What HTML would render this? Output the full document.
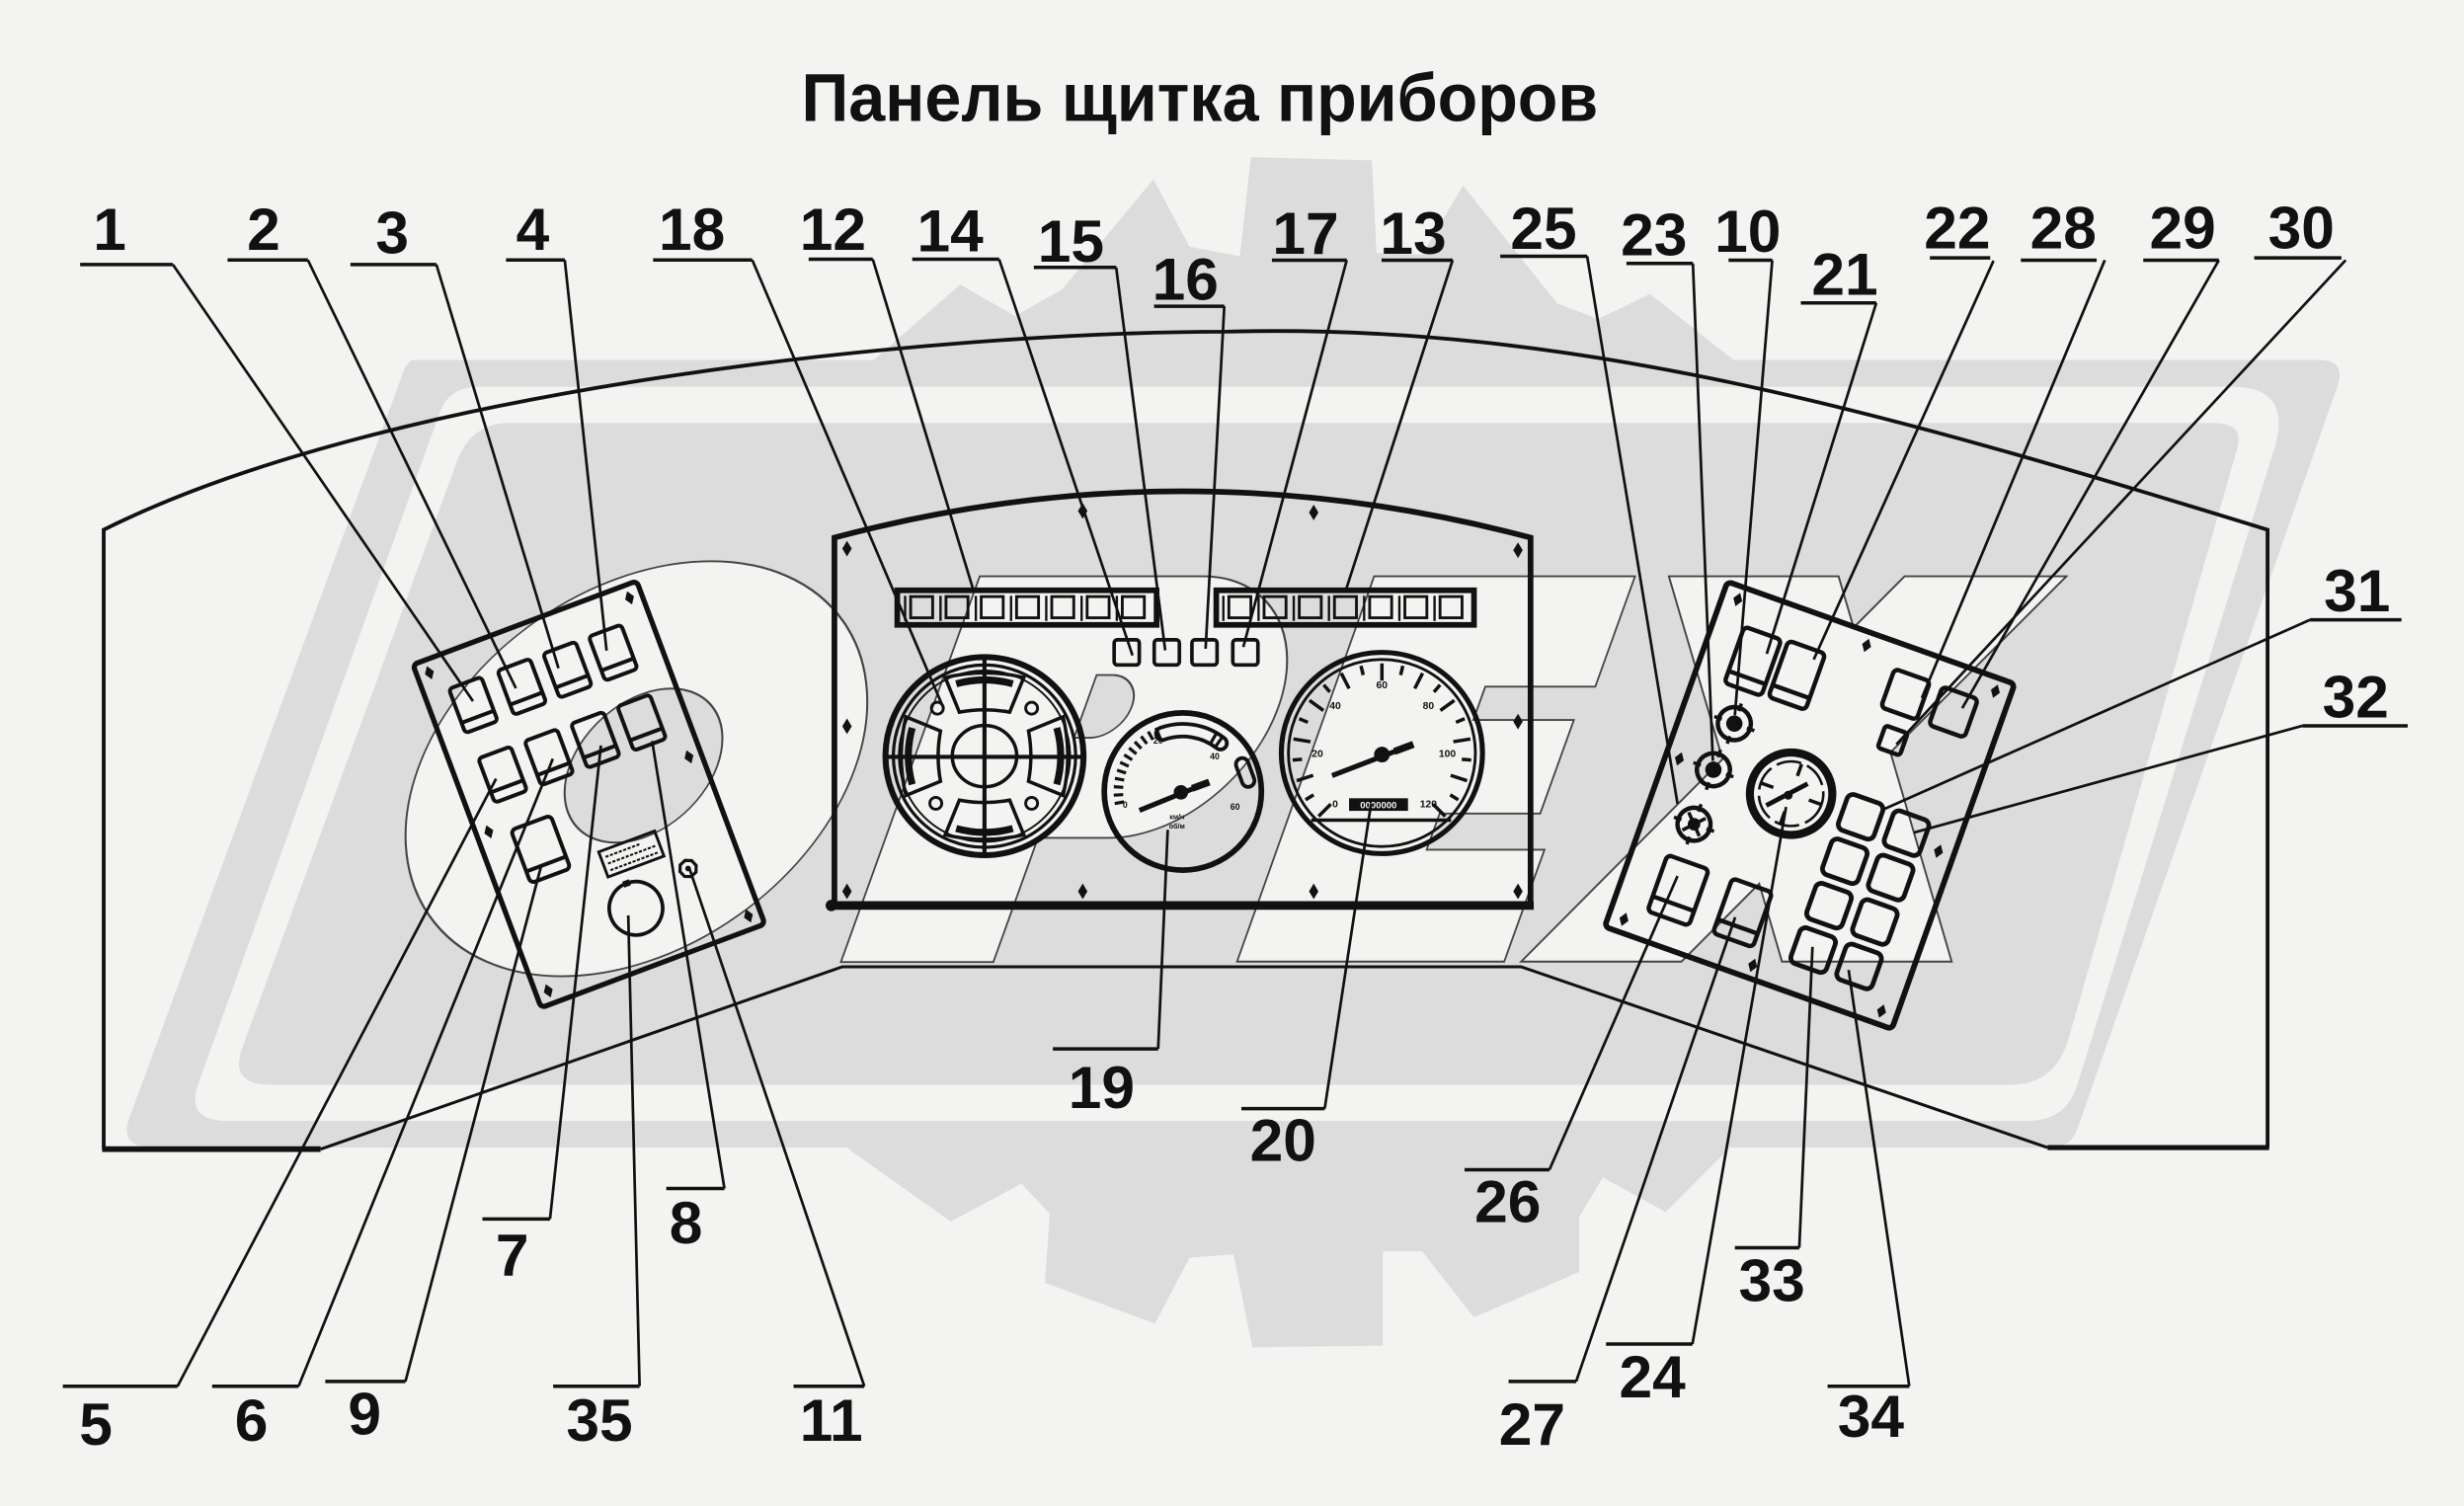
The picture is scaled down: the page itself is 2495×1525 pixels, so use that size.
<!DOCTYPE html>
<html>
<head>
<meta charset="utf-8">
<style>
html,body{margin:0;padding:0;background:#f3f3f1;}
svg{display:block;}
text{font-family:"Liberation Sans", Arial, sans-serif;font-weight:bold;fill:#111;}
</style>
</head>
<body>
<svg xmlns="http://www.w3.org/2000/svg" width="2495" height="1525" viewBox="0 0 1568 958" preserveAspectRatio="none">
<rect x="0" y="0" width="1568" height="958" fill="#f3f3f1"/>

<!-- ===== WATERMARK ===== -->
<g fill="#dcdcdc" stroke="none">
  <polygon points="548,236 611,181 646,201 676,184 734,114 757,157 789,163 796,100 873,102 876,161 905,162 931,118 991,193 1017,203 1050,187 1112,236"/>
  <polygon points="540,724 540,731 605,777 650,753 668,772 665,816 735,842 757,800 785,798 797,857 880,856 880,796 905,796 938,838 1005,809 1005,774 1020,749 1060,771 1100,731 1100,724"/>
  <!-- frame outer -->
  <path d="M262,229 L1476,229 Q1492,229 1488,244 L1322,718 Q1318,730 1305,730 L98,730 Q76,730 82,712 L258,233 Z"/>
</g>
<!-- frame light band -->
<path d="M305,246 L1420,246 Q1458,246 1448,283 L1322,690 Q1315,713 1290,713 L145,713 Q118,713 126,690 L280,262 Q286,246 305,246 Z" fill="#f3f3f1"/>
<!-- frame inner -->
<path d="M325,269 L1408,269 Q1428,269 1424,284 L1316,662 Q1307,690 1280,690 L172,690 Q146,690 154,667 L291,293 Q300,269 325,269 Z" fill="#dcdcdc"/>

<g transform="translate(0,229) skewX(-19.8)">
  <!-- O -->
  <ellipse cx="498.6" cy="260" rx="139" ry="132" fill="#f3f3f1" stroke="#444" stroke-width="1.2"/>
  <ellipse cx="502.4" cy="258" rx="47" ry="49" fill="#dcdcdc" stroke="#444" stroke-width="1.2"/>
  <!-- P -->
  <path d="M673,137.6 L815,137.6 A78,83.2 0 0 1 815,304 L770,304 L770,383 L673,383 Z" fill="#f3f3f1" stroke="#444" stroke-width="1.2"/>
  <path d="M770,200.4 L781,200.4 A20,20 0 0 1 781,240.3 L770,240.3 Z" fill="#dcdcdc" stroke="#444" stroke-width="1.2"/>
  <!-- E -->
  <polygon points="924,137.6 1090,137.6 1090,207.8 1020,207.8 1020,229 1084,229 1084,288.5 1020,288.5 1020,311.5 1095,311.5 1095,382.7 925,382.7" fill="#f3f3f1" stroke="#444" stroke-width="1.2"/>
</g>
<!-- X -->
<polygon points="1062,366.6 1170,366.6 1179.6,399.2 1212,366.6 1315,366.6 1203,478.6 1242,611.7 1134,611.7 1119.5,562.1 1070,611.7 968,611.7 1096.2,482.9" fill="#f3f3f1" stroke="#444" stroke-width="1.2"/>

<!-- ===== TITLE ===== -->
<text x="763.5" y="77" font-size="43" text-anchor="middle" textLength="507" lengthAdjust="spacingAndGlyphs">Панель щитка приборов</text>

<!-- ===== DASHBOARD OUTLINE ===== -->
<g fill="none" stroke="#111" stroke-linejoin="miter">
  <path d="M66,731 L66,337 C250,245 600,211 780,211 C1000,205 1200,262 1443,337 L1443,730" stroke-width="2.4"/>
  <line x1="65" y1="731" x2="204" y2="731" stroke-width="3.6"/>
  <path d="M204,731 L536,615 L968,615 L1303,730" stroke-width="1.9"/>
  <line x1="1303" y1="730" x2="1444" y2="730" stroke-width="3.2"/>
</g>

<!-- ===== CENTRAL PANEL ===== -->
<g fill="none" stroke="#111">
  <path d="M531,576 L531,342 Q752,283 974,342 L974,576" stroke-width="3.6"/>
  <line x1="529" y1="576" x2="976" y2="576" stroke-width="5.5"/>
</g>
<circle cx="529" cy="576" r="3.6" fill="#111"/>
<g fill="#111">
  <path d="M539,344 l3,5 l-3,5 l-3,-5z"/>
  <path d="M966,345 l3,5 l-3,5 l-3,-5z"/>
  <path d="M539,457 l3,5 l-3,5 l-3,-5z"/>
  <path d="M966,454 l3,5 l-3,5 l-3,-5z"/>
  <path d="M539,562 l3,5 l-3,5 l-3,-5z"/>
  <path d="M689,562 l3,5 l-3,5 l-3,-5z"/>
  <path d="M836,562 l3,5 l-3,5 l-3,-5z"/>
  <path d="M966,562 l3,5 l-3,5 l-3,-5z"/>
  <path d="M689,320 l3,5 l-3,5 l-3,-5z"/>
  <path d="M836,321 l3,5 l-3,5 l-3,-5z"/>
</g>

<!-- indicator strips -->
<g fill="none" stroke="#111">
  <rect x="571" y="375.5" width="165" height="22" stroke-width="3.6"/>
  <rect x="774" y="375.5" width="164" height="22" stroke-width="3.6"/>
  <g stroke-width="1.8">
    <rect x="579.5" y="379.5" width="14" height="13.5"/>
    <rect x="602" y="379.5" width="14" height="13.5"/>
    <rect x="624.4" y="379.5" width="14" height="13.5"/>
    <rect x="646.9" y="379.5" width="14" height="13.5"/>
    <rect x="669.3" y="379.5" width="14" height="13.5"/>
    <rect x="691.8" y="379.5" width="14" height="13.5"/>
    <rect x="714.2" y="379.5" width="14" height="13.5"/>
    <rect x="782" y="379.5" width="14" height="13.5"/>
    <rect x="804.4" y="379.5" width="14" height="13.5"/>
    <rect x="826.8" y="379.5" width="14" height="13.5"/>
    <rect x="849.2" y="379.5" width="14" height="13.5"/>
    <rect x="871.6" y="379.5" width="14" height="13.5"/>
    <rect x="894" y="379.5" width="14" height="13.5"/>
    <rect x="916.4" y="379.5" width="14" height="13.5"/>
  </g>
  <g stroke-width="1.5">
    <line x1="576" y1="379" x2="576" y2="395"/><line x1="598.5" y1="379" x2="598.5" y2="395"/>
    <line x1="621" y1="379" x2="621" y2="395"/><line x1="643.4" y1="379" x2="643.4" y2="395"/>
    <line x1="665.8" y1="379" x2="665.8" y2="395"/><line x1="688.3" y1="379" x2="688.3" y2="395"/>
    <line x1="710.7" y1="379" x2="710.7" y2="395"/>
    <line x1="778.5" y1="379" x2="778.5" y2="395"/><line x1="800.9" y1="379" x2="800.9" y2="395"/>
    <line x1="823.3" y1="379" x2="823.3" y2="395"/><line x1="845.7" y1="379" x2="845.7" y2="395"/>
    <line x1="868.1" y1="379" x2="868.1" y2="395"/><line x1="890.5" y1="379" x2="890.5" y2="395"/>
    <line x1="912.9" y1="379" x2="912.9" y2="395"/>
  </g>
  <g stroke-width="2.3">
    <rect x="709" y="407" width="16" height="16" rx="2"/>
    <rect x="734.5" y="407" width="16" height="16" rx="2"/>
    <rect x="758.5" y="407" width="16" height="16" rx="2"/>
    <rect x="784.5" y="407" width="16" height="16" rx="2"/>
  </g>
</g>

<!-- ===== GAUGE 18 (left) ===== -->
<g transform="translate(626.5,481)" fill="none" stroke="#111">
  <circle r="63" stroke-width="3.8"/>
  <circle r="58" stroke-width="2"/>
  <circle r="54.5" stroke-width="1.2"/>
  <g stroke-width="2.2">
    <path d="M-25,-50 Q0,-56 25,-50 L16,-28 Q0,-31 -16,-28 Z"/>
    <path d="M-25,-50 Q0,-56 25,-50 L16,-28 Q0,-31 -16,-28 Z" transform="rotate(90)"/>
    <path d="M-25,-50 Q0,-56 25,-50 L16,-28 Q0,-31 -16,-28 Z" transform="rotate(180)"/>
    <path d="M-25,-50 Q0,-56 25,-50 L16,-28 Q0,-31 -16,-28 Z" transform="rotate(270)"/>
  </g>
  <g stroke-width="4.5">
    <path d="M-18,-46 Q0,-51 18,-46"/>
    <path d="M-18,-46 Q0,-51 18,-46" transform="rotate(90)"/>
    <path d="M-18,-46 Q0,-51 18,-46" transform="rotate(180)"/>
    <path d="M-18,-46 Q0,-51 18,-46" transform="rotate(270)"/>
  </g>
  <g stroke-width="1.8">
    <circle cx="-30" cy="-30.5" r="3.8"/><circle cx="30" cy="-30.5" r="3.8"/>
    <circle cx="-31" cy="30" r="3.8"/><circle cx="30" cy="30" r="3.8"/>
  </g>
  <ellipse rx="20.5" ry="19.5" stroke-width="2.2"/>
  <line x1="-62" y1="0.5" x2="62" y2="0.5" stroke-width="2.6"/>
  <line x1="0" y1="-63" x2="0" y2="63" stroke-width="2.6"/>
</g>

<!-- ===== GAUGE 19 (middle) ===== -->
<g transform="translate(752.7,503.5)" fill="none" stroke="#111">
  <circle r="50" stroke-width="3.6"/>
  <path d="M-14.7,-40.4 A43,43 0 0 1 26.5,-33.9 A4,4 0 0 1 21.5,-27.6 A35,35 0 0 0 -12,-32.9 A4,4 0 0 1 -14.7,-40.4 Z" stroke-width="2.4"/>
  <rect x="35.7" y="-21.6" width="8" height="19" rx="4" transform="rotate(-20 39.7 -12.1)" stroke-width="2.4"/>
  <g stroke-width="2">
    <line x1="38" y1="0" x2="44" y2="0" transform="rotate(170)"/>
    <line x1="38" y1="0" x2="44" y2="0" transform="rotate(177)"/>
    <line x1="38" y1="0" x2="44" y2="0" transform="rotate(184)"/>
    <line x1="38" y1="0" x2="44" y2="0" transform="rotate(191)"/>
    <line x1="38" y1="0" x2="44" y2="0" transform="rotate(198)"/>
    <line x1="38" y1="0" x2="44" y2="0" transform="rotate(205)"/>
    <line x1="38" y1="0" x2="44" y2="0" transform="rotate(212)"/>
    <line x1="38" y1="0" x2="44" y2="0" transform="rotate(219)"/>
    <line x1="38" y1="0" x2="44" y2="0" transform="rotate(226)"/>
    <line x1="38" y1="0" x2="44" y2="0" transform="rotate(233)"/>
    <line x1="38" y1="0" x2="44" y2="0" transform="rotate(240)"/>
    <line x1="36" y1="0" x2="44" y2="0" transform="rotate(247)"/>
    <line x1="36" y1="0" x2="43" y2="0" transform="rotate(300)"/>
    <line x1="36" y1="0" x2="43" y2="0" transform="rotate(306)"/>
  </g>
  <line x1="-27.6" y1="12" x2="16.8" y2="-6" stroke-width="3.2"/>
  <line x1="6" y1="-2" x2="16.8" y2="-6" stroke-width="4.5"/>
</g>
<circle cx="751.5" cy="504" r="4.6" fill="#111"/>
<g font-size="5.5">
  <text x="716" y="514" text-anchor="middle">0</text>
  <text x="737" y="473" text-anchor="middle">20</text>
  <text x="773" y="483" text-anchor="middle">40</text>
  <text x="786" y="515" text-anchor="middle">60</text>
  <text x="749" y="521" text-anchor="middle" font-size="4.5">км/ч</text>
  <text x="749" y="527" text-anchor="middle" font-size="4.5">об/м</text>
</g>

<!-- ===== GAUGE 20 (right, speedometer) ===== -->
<g transform="translate(879.4,479)" fill="none" stroke="#111">
  <circle r="64" stroke-width="3.2"/>
  <circle r="59.5" stroke-width="1.8"/>
  <g stroke-width="2.2">
    <line x1="46" y1="0" x2="57" y2="0" transform="rotate(135)"/>
    <line x1="51" y1="0" x2="57" y2="0" transform="rotate(148.5)"/>
    <line x1="46" y1="0" x2="57" y2="0" transform="rotate(162)"/>
    <line x1="51" y1="0" x2="57" y2="0" transform="rotate(175.5)"/>
    <line x1="46" y1="0" x2="57" y2="0" transform="rotate(189)"/>
    <line x1="51" y1="0" x2="57" y2="0" transform="rotate(202.5)"/>
    <line x1="46" y1="0" x2="57" y2="0" transform="rotate(216)"/>
    <line x1="51" y1="0" x2="57" y2="0" transform="rotate(229.5)"/>
    <line x1="46" y1="0" x2="57" y2="0" transform="rotate(243)"/>
    <line x1="51" y1="0" x2="57" y2="0" transform="rotate(256.5)"/>
    <line x1="46" y1="0" x2="57" y2="0" transform="rotate(270)"/>
    <line x1="51" y1="0" x2="57" y2="0" transform="rotate(283.5)"/>
    <line x1="46" y1="0" x2="57" y2="0" transform="rotate(297)"/>
    <line x1="51" y1="0" x2="57" y2="0" transform="rotate(310.5)"/>
    <line x1="46" y1="0" x2="57" y2="0" transform="rotate(324)"/>
    <line x1="51" y1="0" x2="57" y2="0" transform="rotate(337.5)"/>
    <line x1="46" y1="0" x2="57" y2="0" transform="rotate(351)"/>
    <line x1="51" y1="0" x2="57" y2="0" transform="rotate(364.5)"/>
    <line x1="46" y1="0" x2="57" y2="0" transform="rotate(378)"/>
    <line x1="51" y1="0" x2="57" y2="0" transform="rotate(391.5)"/>
    <line x1="46" y1="0" x2="57" y2="0" transform="rotate(405)"/>
  </g>
  <line x1="-45" y1="42.7" x2="44" y2="42.7" stroke-width="2.2"/>
  <line x1="-31.7" y1="14.4" x2="20" y2="-5.5" stroke-width="3.2"/>
  <line x1="8" y1="-1" x2="20" y2="-5.5" stroke-width="4.5"/>
</g>
<circle cx="879.4" cy="480" r="5" fill="#111"/>
<rect x="858.5" y="507.8" width="37.5" height="8" fill="#111"/>
<text x="877.2" y="514.3" font-size="6" text-anchor="middle" style="fill:#f3f3f1">0000000</text>
<g font-size="6.5" text-anchor="middle">
  <text x="849.7" y="513.5">0</text>
  <text x="838.4" y="481.5">20</text>
  <text x="849.7" y="451">40</text>
  <text x="879.4" y="438">60</text>
  <text x="909" y="451">80</text>
  <text x="921" y="481.5">100</text>
  <text x="909" y="513.5">120</text>
</g>

<!-- ===== LEFT SWITCH PANEL ===== -->
<g transform="translate(374.75,505.3) rotate(-20.5)" fill="none" stroke="#111">
  <rect x="-76" y="-116.5" width="152" height="233" rx="3" stroke-width="3.3"/>
  <g stroke-width="2.5">
    <rect x="-60" y="-94" width="22" height="30" rx="2.5"/><line x1="-60" y1="-71" x2="-38" y2="-71"/>
    <rect x="-27" y="-94" width="22" height="30" rx="2.5"/><line x1="-27" y1="-71" x2="-5" y2="-71"/>
    <rect x="4" y="-94" width="22" height="30" rx="2.5"/><line x1="4" y1="-71" x2="26" y2="-71"/>
    <rect x="35" y="-94" width="22" height="30" rx="2.5"/><line x1="35" y1="-71" x2="57" y2="-71"/>
    <rect x="-58" y="-46" width="22" height="30" rx="2.5"/><line x1="-58" y1="-23" x2="-36" y2="-23"/>
    <rect x="-26.5" y="-46" width="22" height="30" rx="2.5"/><line x1="-26.5" y1="-23" x2="-4.5" y2="-23"/>
    <rect x="5" y="-46" width="22" height="30" rx="2.5"/><line x1="5" y1="-23" x2="27" y2="-23"/>
    <rect x="36.5" y="-46" width="22" height="30" rx="2.5"/><line x1="36.5" y1="-23" x2="58.5" y2="-23"/>
    <rect x="-54.5" y="4" width="27" height="36" rx="3"/><line x1="-54.5" y1="32" x2="-27.5" y2="32"/>
  </g>
  <rect x="-7" y="36.5" width="38" height="17" stroke-width="1.8"/>
  <g stroke-width="1.3" stroke-dasharray="2 1">
    <line x1="-4" y1="41" x2="20" y2="41"/>
    <line x1="-4" y1="45.5" x2="28" y2="45.5"/>
    <line x1="-4" y1="50" x2="28" y2="50"/>
  </g>
  <circle cx="2.65" cy="78.4" r="17" stroke-width="2.3"/>
  <rect x="0.4" y="59.5" width="4.5" height="4" fill="#111" stroke="none"/>
  <polygon points="42.6,60.8 46.5,62.4 48.1,66.3 46.5,70.2 42.6,71.8 38.7,70.2 37.1,66.3 38.7,62.4" stroke-width="2"/>
  <circle cx="42.6" cy="66.3" r="1.8" fill="#111" stroke="none"/>
  <g fill="#111" stroke="none">
    <path d="M-68,-112.5 l3,4.5 l-3,4.5 l-3,-4.5z"/>
    <path d="M68,-112.5 l3,4.5 l-3,4.5 l-3,-4.5z"/>
    <path d="M-68,-4.5 l3,4.5 l-3,4.5 l-3,-4.5z"/>
    <path d="M68,-4.5 l3,4.5 l-3,4.5 l-3,-4.5z"/>
    <path d="M-68,103.5 l3,4.5 l-3,4.5 l-3,-4.5z"/>
    <path d="M68,103.5 l3,4.5 l-3,4.5 l-3,-4.5z"/>
  </g>
</g>

<!-- ===== RIGHT SWITCH PANEL ===== -->
<g transform="translate(1151.6,512.3) rotate(19.6)" fill="none" stroke="#111">
  <rect x="-97" y="-116.5" width="194" height="233" rx="3" stroke-width="3.6"/>
  <g stroke-width="2.8">
    <rect x="-77.3" y="-93.2" width="25" height="38" rx="3"/><line x1="-77.3" y1="-63.2" x2="-52.3" y2="-63.2"/>
    <rect x="-47.9" y="-94.2" width="25" height="38" rx="3"/><line x1="-47.9" y1="-64.2" x2="-22.9" y2="-64.2"/>
    <rect x="-74.7" y="60" width="28" height="38" rx="3"/><line x1="-74.7" y1="88" x2="-46.7" y2="88"/>
    <rect x="-30.8" y="60.2" width="27" height="37" rx="3"/><line x1="-30.8" y1="88" x2="-3.8" y2="88"/>
    <rect x="21.8" y="-100" width="24" height="26" rx="3"/>
    <rect x="54.3" y="-99.6" width="24" height="26" rx="3"/>
    <rect x="28.4" y="-64.1" width="15" height="15" rx="2"/>
  </g>
  <g stroke-width="3">
    <rect x="21" y="-16" width="24" height="24" rx="4"/>
    <rect x="52" y="-16" width="24" height="24" rx="4"/>
    <rect x="21" y="14" width="24" height="24" rx="4"/>
    <rect x="52" y="14" width="24" height="24" rx="4"/>
    <rect x="21" y="44" width="24" height="24" rx="4"/>
    <rect x="52" y="44" width="24" height="24" rx="4"/>
    <rect x="21" y="74" width="24" height="24" rx="4"/>
    <rect x="52" y="74" width="24" height="24" rx="4"/>
  </g>
  <g stroke-width="2.8">
    <circle cx="-62.6" cy="-32.9" r="10.5"/>
    <circle cx="-65.3" cy="-0.8" r="10.5"/>
    <circle cx="-65.3" cy="36" r="10.5"/>
  </g>
  <g fill="#111" stroke="none">
    <circle cx="-62.6" cy="-32.9" r="5.2"/>
    <circle cx="-65.3" cy="-0.8" r="5.2"/>
    <circle cx="-65.3" cy="36" r="4"/>
  </g>
  <g stroke-width="2.2">
    <path d="M-62.6,-46.4 v5 M-62.6,-24.4 v5 M-76.1,-32.9 h5 M-54.1,-32.9 h5"/>
    <path d="M-65.3,-14.3 v5 M-65.3,7.7 v5 M-78.8,-0.8 h5 M-56.8,-0.8 h5"/>
    <path d="M-65.3,22.5 v5 M-65.3,44.5 v5 M-78.8,36 h5 M-56.8,36 h5"/>
    <path d="M-71,30 L-59.6,42 M-71,42 L-59.6,30"/>
  </g>
  <circle cx="-13.6" cy="-3" r="26.2" stroke-width="5.2"/>
  <circle cx="-13.6" cy="-3" r="20.5" stroke-width="1.6" stroke-dasharray="16 4"/>
  <g stroke-width="2.2">
    <line x1="-13.6" y1="-23" x2="-13.6" y2="-15"/>
    <line x1="-13.6" y1="9" x2="-13.6" y2="17"/>
    <line x1="-33.6" y1="-3" x2="-25.6" y2="-3"/>
    <line x1="-1.6" y1="-3" x2="6.4" y2="-3"/>
  </g>
  <line x1="-26" y1="9.3" x2="-5.8" y2="-12.5" stroke-width="3"/>
  <circle cx="-15" cy="-1.5" r="2.8" fill="#111" stroke="none"/>
  <g fill="#111" stroke="none">
    <path d="M-87,-112.5 l3,4.5 l-3,4.5 l-3,-4.5z"/>
    <path d="M0,-112.5 l3,4.5 l-3,4.5 l-3,-4.5z"/>
    <path d="M87,-112.5 l3,4.5 l-3,4.5 l-3,-4.5z"/>
    <path d="M-88,-4.5 l3,4.5 l-3,4.5 l-3,-4.5z"/>
    <path d="M87,-4.5 l3,4.5 l-3,4.5 l-3,-4.5z"/>
    <path d="M-87,103.5 l3,4.5 l-3,4.5 l-3,-4.5z"/>
    <path d="M0,103.5 l3,4.5 l-3,4.5 l-3,-4.5z"/>
    <path d="M87,103.5 l3,4.5 l-3,4.5 l-3,-4.5z"/>
  </g>
</g>

<!-- ===== LEADER LINES ===== -->
<g stroke="#111" stroke-width="1.7" fill="none">
  <line x1="110" y1="168.3" x2="301" y2="446"/>
  <line x1="195.9" y1="165.4" x2="328.3" y2="437.8"/>
  <line x1="277.7" y1="168.3" x2="355.4" y2="425.1"/>
  <line x1="359.4" y1="165.4" x2="386" y2="413.9"/>
  <line x1="478.7" y1="165.4" x2="600.4" y2="450.4"/>
  <line x1="555.4" y1="164.9" x2="619.6" y2="376"/>
  <line x1="635.8" y1="164.9" x2="720.7" y2="416.9"/>
  <line x1="710.3" y1="170.1" x2="741.5" y2="413.7"/>
  <line x1="779.1" y1="194.8" x2="767.2" y2="412.7"/>
  <line x1="857" y1="165.5" x2="791.2" y2="411.6"/>
  <line x1="924.4" y1="165.5" x2="856.9" y2="374"/>
  <line x1="1010" y1="163" x2="1067.5" y2="511.2"/>
  <line x1="1077.3" y1="167.6" x2="1090" y2="484"/>
  <line x1="1127.8" y1="165.5" x2="1104" y2="455"/>
  <line x1="1194" y1="192.7" x2="1124.3" y2="415.9"/>
  <line x1="1268.6" y1="165.9" x2="1154.2" y2="419.5"/>
  <line x1="1339.4" y1="165.5" x2="1223" y2="444"/>
  <line x1="1412" y1="165.5" x2="1248.7" y2="450.5"/>
  <line x1="1492.7" y1="165.5" x2="1206.8" y2="473.5"/>
  <line x1="1470" y1="394.3" x2="1198" y2="515.1"/>
  <line x1="1465.2" y1="461.7" x2="1218" y2="529.6"/>
  <line x1="113" y1="881.8" x2="315.7" y2="495.3"/>
  <line x1="190" y1="881.8" x2="351.8" y2="482.7"/>
  <line x1="258" y1="878.8" x2="344.6" y2="550"/>
  <line x1="350" y1="775.4" x2="382.4" y2="474.2"/>
  <line x1="461" y1="756" x2="415" y2="471.4"/>
  <line x1="407" y1="881.8" x2="399.8" y2="582.3"/>
  <line x1="550" y1="881.8" x2="438.4" y2="551.4"/>
  <line x1="737" y1="667.2" x2="743.1" y2="527.9"/>
  <line x1="843" y1="705.2" x2="872.5" y2="511.2"/>
  <line x1="986" y1="744.1" x2="1067.5" y2="557.3"/>
  <line x1="1145" y1="793.7" x2="1153.4" y2="602.3"/>
  <line x1="1003" y1="878.8" x2="1104.2" y2="583.5"/>
  <line x1="1077" y1="855" x2="1136.6" y2="513.3"/>
  <line x1="1215" y1="881.8" x2="1176.4" y2="617"/>
</g>

<!-- ===== UNDERLINES ===== -->
<g stroke="#111" stroke-width="2.2">
  <line x1="51" y1="168.3" x2="110" y2="168.3"/>
  <line x1="144.8" y1="165.4" x2="195.9" y2="165.4"/>
  <line x1="223" y1="168.3" x2="277.7" y2="168.3"/>
  <line x1="322" y1="165.4" x2="359.4" y2="165.4"/>
  <line x1="415.6" y1="165.4" x2="478.7" y2="165.4"/>
  <line x1="514.6" y1="164.9" x2="555.4" y2="164.9"/>
  <line x1="580.5" y1="164.9" x2="635.8" y2="164.9"/>
  <line x1="657.9" y1="170.1" x2="710.3" y2="170.1"/>
  <line x1="734.4" y1="194.8" x2="779.1" y2="194.8"/>
  <line x1="809.4" y1="165.5" x2="857" y2="165.5"/>
  <line x1="879.2" y1="165.5" x2="924.4" y2="165.5"/>
  <line x1="954.7" y1="163" x2="1010" y2="163"/>
  <line x1="1035" y1="167.6" x2="1077.3" y2="167.6"/>
  <line x1="1100" y1="165.5" x2="1127.8" y2="165.5"/>
  <line x1="1146" y1="192.7" x2="1194" y2="192.7"/>
  <line x1="1228.1" y1="164" x2="1266.5" y2="164"/>
  <line x1="1286" y1="165.5" x2="1334.2" y2="165.5"/>
  <line x1="1363.9" y1="165.5" x2="1412" y2="165.5"/>
  <line x1="1434.5" y1="164" x2="1490" y2="164"/>
  <line x1="1470" y1="394.3" x2="1528.2" y2="394.3"/>
  <line x1="1465.2" y1="461.7" x2="1532.2" y2="461.7"/>
  <line x1="40" y1="881.8" x2="113" y2="881.8"/>
  <line x1="135" y1="881.8" x2="190" y2="881.8"/>
  <line x1="207" y1="878.8" x2="258" y2="878.8"/>
  <line x1="352" y1="881.8" x2="407" y2="881.8"/>
  <line x1="505" y1="881.8" x2="550" y2="881.8"/>
  <line x1="307" y1="775.4" x2="350" y2="775.4"/>
  <line x1="424" y1="756" x2="461" y2="756"/>
  <line x1="670" y1="667.2" x2="737" y2="667.2"/>
  <line x1="790" y1="705.2" x2="843" y2="705.2"/>
  <line x1="932" y1="744.1" x2="986" y2="744.1"/>
  <line x1="1104" y1="793.7" x2="1145" y2="793.7"/>
  <line x1="960" y1="878.8" x2="1003" y2="878.8"/>
  <line x1="1022" y1="855" x2="1077" y2="855"/>
  <line x1="1163" y1="881.8" x2="1215" y2="881.8"/>
</g>

<!-- ===== LABELS ===== -->
<g font-size="38" text-anchor="middle">
  <text x="69.8" y="159">1</text>
  <text x="167.8" y="159">2</text>
  <text x="249.6" y="161">3</text>
  <text x="339" y="159">4</text>
  <text x="440.3" y="159">18</text>
  <text x="530" y="159">12</text>
  <text x="604.7" y="160">14</text>
  <text x="681.5" y="166.6">15</text>
  <text x="754.3" y="190.6">16</text>
  <text x="830.8" y="161.3">17</text>
  <text x="899.3" y="161.3">13</text>
  <text x="982.3" y="158.2">25</text>
  <text x="1052.5" y="162.4">23</text>
  <text x="1112.2" y="160.3">10</text>
  <text x="1174" y="187.5">21</text>
  <text x="1245.5" y="158.1">22</text>
  <text x="1313" y="158.1">28</text>
  <text x="1389" y="158.1">29</text>
  <text x="1464.5" y="158.1">30</text>
  <text x="1500" y="388.8">31</text>
  <text x="1499" y="456.3">32</text>
  <text x="61" y="918.9">5</text>
  <text x="160" y="916.4">6</text>
  <text x="232" y="912.6">9</text>
  <text x="381.5" y="916.4">35</text>
  <text x="529" y="916.4">11</text>
  <text x="326" y="811.2">7</text>
  <text x="436.5" y="791">8</text>
  <text x="701" y="704.7">19</text>
  <text x="816.5" y="738.5">20</text>
  <text x="959.5" y="777.4">26</text>
  <text x="1127.5" y="827.5">33</text>
  <text x="975" y="918.9">27</text>
  <text x="1051.5" y="888.9">24</text>
  <text x="1190.5" y="914">34</text>
</g>
</svg>
</body>
</html>
